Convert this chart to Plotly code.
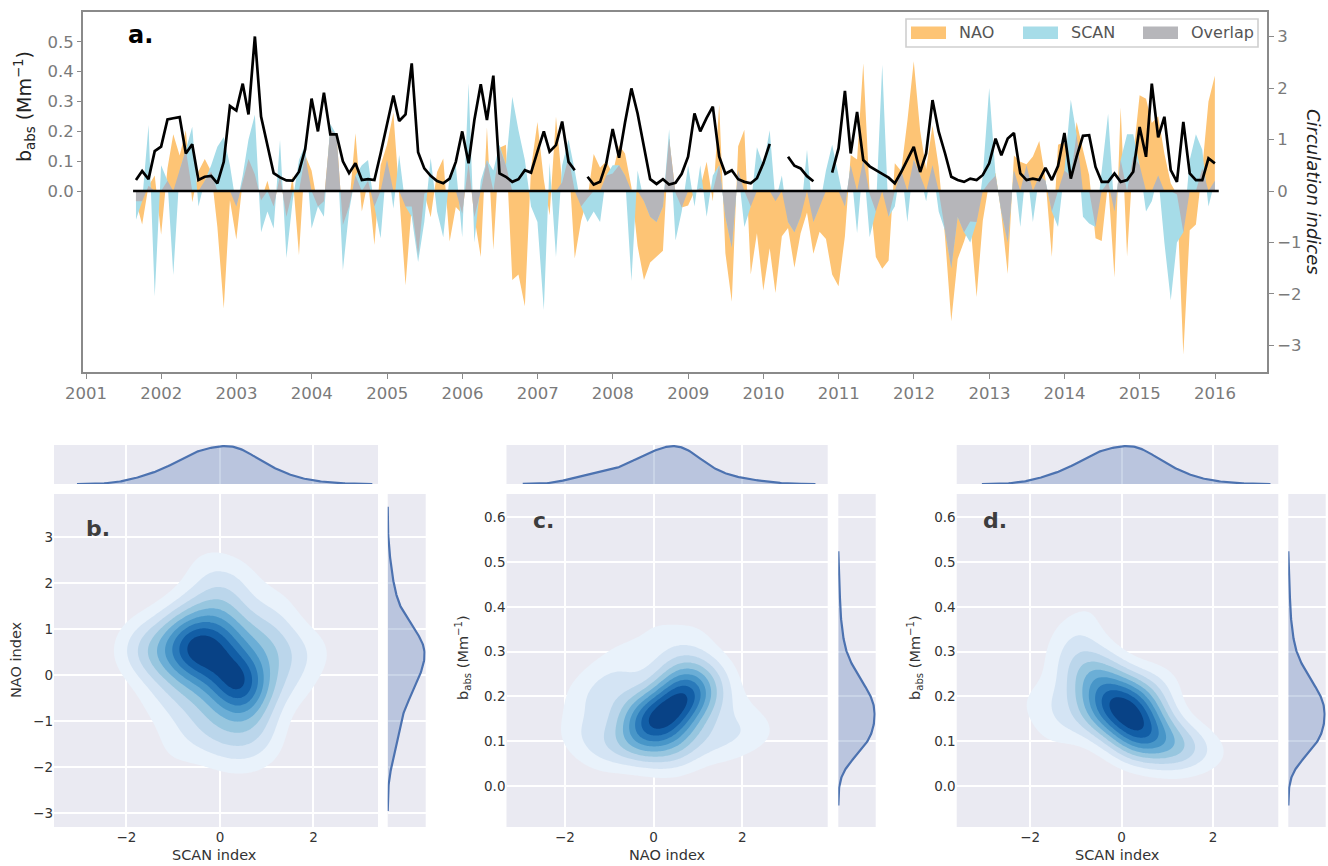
import numpy as np
import pandas as pd
import plotly.graph_objects as go

# ---------------- panel a data (monthly, Aug 2001 - Dec 2015) ----------------
months = pd.period_range("2001-08", "2015-12", freq="M").to_timestamp(how="end").strftime("%Y-%m-%d").tolist()

NAO = [-0.20, -0.65, 0.10, 0.30, -0.85,
       0.44, 1.10, 0.69, 1.18, -0.22, 0.38, 0.62, 0.38, -0.70, -2.28, -0.18, -0.94,
       0.20, 0.62, 0.32, -0.18, 0.20, -0.30, 0.30, -0.50, 0.30, -1.25, 0.70, 0.40,
       -0.30, -0.20, 1.20, 1.10, -0.66, -0.30, 1.12, -0.40, 0.20, -1.05, 0.50, 0.90,
       1.52, -0.06, -1.83, -0.30, -1.25, -0.05, -0.51, 0.37, 0.63, -0.98, -0.31, -0.44,
       0.55, -0.51, -1.28, 1.24, -1.14, 0.84, 0.90, -1.73, -1.62, -2.24, 0.44, 1.34,
       0.22, -0.47, 1.44, 0.17, 0.66, -1.31, -0.58, -0.14, 0.72, 0.45, 0.58, 0.34,
       0.89, 0.73, 0.08, -1.07, -1.73, -1.39, -1.27, -1.16, 1.02, -0.04, -0.32, -0.28,
       -0.01, 0.06, 0.57, -0.20, 1.68, -1.21, -2.15, 0.87, 1.19, -1.62, -0.82, -1.93,
       -1.11, -1.98, -0.88, -0.72, -1.49, -0.82, -0.42, -1.22, -0.79, -0.93, -1.62, -1.85,
       -0.88, 0.70, 0.61, 2.48, -0.06, -1.28, -1.51, -1.35, 0.54, 0.39, 1.36, 2.52,
       1.17, 0.42, 1.27, 0.47, -0.91, -2.53, -1.32, -0.98, -0.59, -2.06, -0.58, 0.17,
       0.35, -0.45, -1.61, 0.69, 0.57, 0.52, 0.67, 0.97, 0.24, -1.28, 0.90, 0.95,
       0.29, 1.34, 0.80, 0.31, -0.92, -0.97, 0.18, -1.68, 1.62, -1.27, 0.68, 1.86,
       1.79, 1.32, 1.45, 0.73, 0.15, -0.07, -3.18, -0.76, -0.65, 0.44, 1.74, 2.24]

SCAN = [-0.56, -0.20, 1.28, -2.05, 0.50,
        0.20, -1.63, 0.40, 0.80, 1.25, -0.30, 0.20, 0.50, 0.86, 1.05, 0.50, -0.30,
        0.30, 1.00, 1.48, -0.80, -0.40, -0.73, 0.99, -1.30, -0.20, 0.60, 0.90, -0.73,
        -0.30, -0.50, 1.30, 1.09, -1.54, -0.40, 0.30, 0.50, 0.60, -0.30, -0.92, 0.60,
        -0.34, 0.70, -0.30, -0.50, -1.38, -0.60, 0.64, -0.40, -0.90, 0.30, 0.50, -0.90,
        2.09, -1.00, 0.20, 0.60, 0.40, 0.90, 0.50, 1.83, 1.18, 0.60, -0.30, -0.60,
        -2.31, 0.55, -1.28, 0.50, 1.00, 0.40, -0.30, -0.60, -0.40, -0.60, 0.30, 0.50,
        0.50, 0.30, -1.75, 0.40, -0.20, -0.50, -0.60, -0.30, 1.20, -0.96, -0.40, 0.50,
        -0.30, 0.50, -0.50, 0.30, 0.50, -0.50, -1.10, 0.40, -0.70, -0.30, 0.85, 0.50,
        1.18, -0.20, 0.30, -0.60, -0.80, -0.50, 0.80, -0.60, -0.30, 0.40, 0.90, 0.30,
        -0.30, 0.50, -0.82, 0.60, -0.90, -0.40, 2.45, -0.50, -0.30, 0.50, -0.60, 0.60,
        0.30, -0.20, 0.50, -0.40, -0.77, -1.50, -0.50, -0.80, -1.00, -0.60, 0.30, 2.00,
        0.30, -0.40, -1.00, 0.40, -0.70, 0.50, -0.60, 0.30, 0.20, -0.40, -0.70, 0.40,
        1.77, 1.10, -0.50, -0.63, -0.70, 0.40, 1.50, -0.40, 0.60, 1.10, 1.10, 0.50,
        -0.40, -0.20, 0.30, -1.00, -2.12, -1.00, -0.80, 0.60, 1.10, 0.80, -0.30, 0.20]

BABS = [0.037, 0.067, 0.040, 0.134, 0.149,
        0.240, 0.244, 0.248, 0.126, 0.157, 0.037, 0.048, 0.051, 0.026, 0.098, 0.285, 0.270,
        0.360, 0.257, 0.518, 0.250, 0.154, 0.060, 0.046, 0.036, 0.035, 0.065, 0.140, 0.310,
        0.200, 0.330, 0.190, 0.190, 0.100, 0.060, 0.093, 0.037, 0.040, 0.037, 0.126, 0.220,
        0.320, 0.235, 0.257, 0.428, 0.130, 0.076, 0.051, 0.034, 0.026, 0.042, 0.098, 0.200,
        0.093, 0.238, 0.358, 0.238, 0.387, 0.059, 0.048, 0.031, 0.040, 0.070, 0.062, 0.132,
        0.200, 0.132, 0.154, 0.233, 0.098, 0.070, None, 0.048, 0.022, 0.031, 0.093, 0.208,
        0.112, 0.230, 0.344, 0.260, 0.154, 0.040, 0.024, 0.040, 0.022, 0.028, 0.058, 0.115,
        0.260, 0.200, 0.245, 0.283, 0.115, 0.058, 0.070, 0.040, 0.031, 0.026, 0.043, 0.093,
        0.158, None, None, 0.115, 0.085, 0.076, 0.050, 0.033, None, None, 0.062, 0.143,
        0.336, 0.126, 0.265, 0.104, 0.083, 0.072, 0.058, 0.045, 0.026, 0.064, 0.104, 0.148,
        0.064, 0.126, 0.305, 0.199, 0.126, 0.048, 0.037, 0.031, 0.042, 0.037, 0.054, 0.093,
        0.176, 0.120, 0.176, 0.195, 0.059, 0.037, 0.042, 0.037, 0.078, 0.037, 0.084, 0.195,
        0.042, 0.115, 0.185, 0.187, 0.081, 0.031, 0.031, 0.059, 0.031, 0.037, 0.065, 0.215,
        0.115, 0.360, 0.180, 0.249, 0.070, 0.031, 0.232, 0.059, 0.037, 0.037, 0.110, 0.093]

# ---------------- panels b-d data: (SCAN, NAO, b_abs) samples estimated from the density panels ----------------
JOINT_SCAN = [-0.60, -0.40, -0.70, -0.30, -0.50, -0.80, -0.20, -0.55, -0.45, -0.65,
              0.40, 0.50, 0.30, 0.55, 0.25, 0.45, 0.35, 0.60, 0.40,
              0.00, -0.10, 0.10, 0.20, 0.05, 0.35,
              -0.20, 0.10, -0.60, -0.10, 0.20, -0.30, 1.20, 0.40,
              -1.20, -1.50, -1.00, -1.30, -1.90, -1.60,
              0.80, 1.10, 1.30, 1.50, 0.90, 2.10, 1.60,
              0.70, 0.20, -0.30, 0.50, -0.10, 0.90, 0.30, -0.40, 1.00, -1.00, 0.90,
              -0.90, -0.70, -0.60, -1.30]
JOINT_NAO = [0.70, 0.50, 0.45, 0.75, 0.60, 0.85, 0.35, 0.30, 0.95, 0.60,
             -0.20, -0.35, -0.10, 0.00, -0.40, -0.15, -0.30, -0.20, 0.05,
             0.20, 0.00, 0.40, 0.80, 0.65, 0.90,
             1.30, 1.10, 1.40, 1.80, 1.60, 2.40, 1.50, 2.10,
             0.60, 0.40, 1.00, 0.20, 0.50, 0.80,
             0.50, 0.70, 0.30, 0.60, 1.00, 0.50, -0.20,
             -0.70, -0.90, -0.70, -1.20, -1.40, -1.10, -1.70, -1.20, -0.30, -1.60, -1.60,
             0.10, -0.60, -0.20, -0.60]
JOINT_BABS = [0.20, 0.17, 0.24, 0.19, 0.22, 0.27, 0.15, 0.14, 0.21, 0.29,
              0.11, 0.15, 0.13, 0.17, 0.10, 0.14, 0.18, 0.12, 0.15,
              0.16, 0.18, 0.17, 0.19, 0.20, 0.22,
              0.22, 0.14, 0.26, 0.18, 0.09, 0.12, 0.10, 0.13,
              0.26, 0.12, 0.35, 0.14, 0.18, 0.20,
              0.20, 0.10, 0.06, 0.09, 0.24, 0.07, 0.08,
              0.10, 0.22, 0.26, 0.08, 0.18, 0.07, 0.11, 0.24, 0.09, 0.20, 0.13,
              0.34, 0.16, 0.42, 0.30]

YEARS = list(range(2001, 2017))
LEFT_TICKS = [0.0, 0.1, 0.2, 0.3, 0.4, 0.5]
RIGHT_TICKS = [-3, -2, -1, 0, 1, 2, 3]
JOINT_TICKS_IDX = [-3, -2, -1, 0, 1, 2, 3]
JOINT_TICKS_B = [0.0, 0.1, 0.2, 0.3, 0.4, 0.5, 0.6]
LEGEND_NAMES = ["NAO", "SCAN", "Overlap"]

# ---------------- style ----------------
W, H = 1328, 866
FONT = "DejaVu Sans"
C_NAO, C_SCAN, C_OVER = "#FDC475", "#A6DCE8", "#B6B6BA"
FRAME = "#8a8a8a"
TICKGRAY = "#7a7a7a"
DARK = "#333333"
BG = "#EAEAF2"
KDE_LINE = "#4C72B0"
KDE_FILL = "rgba(76,114,176,0.30)"


def px(xp):
    return xp / W


def py(yp):
    return 1 - yp / H


def mlab(v):
    return f"{v:g}".replace("-", "\u2212")


nao = np.array(NAO, dtype=float)
scan = np.array(SCAN, dtype=float)
babs = np.array([np.nan if v is None else v for v in BABS], dtype=float)
same = np.sign(nao) == np.sign(scan)
overlap = np.where(same, np.sign(nao) * np.minimum(np.abs(nao), np.abs(scan)), 0.0)

fig = go.Figure()

# ---------------- panel a ----------------
for vals, col, name in ((nao, C_NAO, "NAO"), (scan, C_SCAN, "SCAN"), (overlap, C_OVER, "Overlap")):
    fig.add_trace(go.Scatter(x=months, y=vals, mode="lines", fill="tozeroy", fillcolor=col,
                             line=dict(width=0, color=col), name=name, showlegend=False,
                             xaxis="x", yaxis="y", hoverinfo="skip"))
fig.add_trace(go.Scatter(x=months, y=babs, mode="lines", line=dict(color="black", width=2.7),
                         connectgaps=False, showlegend=False, xaxis="x", yaxis="y2",
                         hoverinfo="skip"))

fig.add_shape(type="line", xref="x", yref="y", x0="2001-08-17", x1="2016-01-19", y0=0, y1=0,
              line=dict(color="black", width=2.7), layer="above")

noauto = dict(automargin=False)
layout = dict(
    xaxis=dict(domain=[px(83), px(1267)], anchor="y", type="date",
               range=["2000-12-17", "2016-09-09"],
               tickvals=[f"{y}-01-01" for y in YEARS], ticktext=[str(y) for y in YEARS],
               ticks="outside", ticklen=5, tickwidth=1.3, tickcolor=FRAME,
               showline=True, mirror=True, linecolor=FRAME, linewidth=2,
               showgrid=False, zeroline=False,
               tickfont=dict(family=FONT, size=16.5, color=TICKGRAY), **noauto),
    yaxis=dict(domain=[py(372), py(12)], anchor="x", side="right",
               range=[-3.515, 3.476], tickvals=RIGHT_TICKS, ticktext=[mlab(v) for v in RIGHT_TICKS],
               ticks="outside", ticklen=5, tickwidth=1.3, tickcolor=FRAME,
               showline=True, mirror=True, linecolor=FRAME, linewidth=2,
               showgrid=False, zeroline=False,
               tickfont=dict(family=FONT, size=16.5, color=TICKGRAY), **noauto),
    yaxis2=dict(overlaying="y", anchor="x", side="left",
                range=[-0.606, 0.600], tickvals=LEFT_TICKS, ticktext=[f"{v:.1f}" for v in LEFT_TICKS],
                ticks="outside", ticklen=5, tickwidth=1.3, tickcolor=FRAME,
                showline=False, showgrid=False, zeroline=False,
                tickfont=dict(family=FONT, size=16.5, color=TICKGRAY), **noauto),
)

# manual legend (matplotlib-style patches)
fig.add_shape(type="rect", xref="paper", yref="paper", x0=px(906), x1=px(1258), y0=py(47), y1=py(19),
              fillcolor="white", line=dict(color="#cfcfcf", width=1.6), layer="above")
LEG_PATCH_X = [911, 1023, 1143]
for name, col, lx in zip(LEGEND_NAMES, (C_NAO, C_SCAN, C_OVER), LEG_PATCH_X):
    fig.add_shape(type="rect", xref="paper", yref="paper", x0=px(lx), x1=px(lx + 35),
                  y0=py(39), y1=py(26.5), fillcolor=col, line=dict(width=0), layer="above")

# ---------------- joint KDE panels ----------------
def blues(t):
    anchors = ["#f7fbff", "#deebf7", "#c6dbef", "#9ecae1", "#6baed6",
               "#4292c6", "#2171b5", "#08519c", "#08306b"]
    pos = t * (len(anchors) - 1)
    i = min(int(pos), len(anchors) - 2)
    f = pos - i
    a = [int(anchors[i][k:k + 2], 16) for k in (1, 3, 5)]
    b = [int(anchors[i + 1][k:k + 2], 16) for k in (1, 3, 5)]
    c = [round(a[j] + (b[j] - a[j]) * f) for j in range(3)]
    return f"rgb({c[0]},{c[1]},{c[2]})"


NLEV = 9
CSCALE = [[0.0, "rgba(255,255,255,0)"]] + \
         [[k / NLEV, blues(0.07 + (k - 1) / (NLEV - 1) * 0.86)] for k in range(1, NLEV + 1)]


def kde2d(xs, ys, gx, gy):
    n = len(xs)
    hx = 1.06 * np.std(xs, ddof=1) * n ** (-1 / 6)
    hy = 1.06 * np.std(ys, ddof=1) * n ** (-1 / 6)
    X, Y = np.meshgrid(gx, gy)
    dx = (X[..., None] - xs) / hx
    dy = (Y[..., None] - ys) / hy
    return np.exp(-0.5 * (dx ** 2 + dy ** 2)).sum(-1) / (2 * np.pi * hx * hy * n)


def kde1d(v):
    n = len(v)
    h = 1.06 * np.std(v, ddof=1) * n ** (-1 / 5)
    g = np.linspace(v.min() - 3 * h, v.max() + 3 * h, 250)
    d = np.exp(-0.5 * ((g[:, None] - v) / h) ** 2).sum(-1) / (np.sqrt(2 * np.pi) * h * n)
    return g, d


j_scan = np.array(JOINT_SCAN)
j_nao = np.array(JOINT_NAO)
j_babs = np.array(JOINT_BABS)

panels = [
    dict(xd=j_scan, yd=j_nao, mx=(54, 378), rx=(387.7, 425.7), xr=[-3.55, 3.38], yr=[-3.30, 3.93],
         yt=JOINT_TICKS_IDX, ytf=lambda v: mlab(v), ids=(3, 4, 5)),
    dict(xd=j_nao, yd=j_babs, mx=(506.5, 827.7), rx=(838.3, 875.7), xr=[-3.32, 3.93], yr=[-0.092, 0.652],
         yt=JOINT_TICKS_B, ytf=lambda v: f"{v:.1f}", ids=(6, 7, 8)),
    dict(xd=j_scan, yd=j_babs, mx=(956.7, 1278.3), rx=(1288.3, 1325.7), xr=[-3.61, 3.43], yr=[-0.092, 0.652],
         yt=JOINT_TICKS_B, ytf=lambda v: f"{v:.1f}", ids=(9, 10, 11)),
]

tickfont_j = dict(family=FONT, size=13.5, color=DARK)
for p in panels:
    xs, ys = p["xd"], p["yd"]
    im, it, ir = p["ids"]
    gx = np.linspace(p["xr"][0], p["xr"][1], 150)
    gy = np.linspace(p["yr"][0], p["yr"][1], 150)
    Z = kde2d(xs, ys, gx, gy)
    step = Z.max() / (NLEV + 1)
    fig.add_trace(go.Contour(x=gx, y=gy, z=Z, xaxis=f"x{im}", yaxis=f"y{im}",
                             contours=dict(start=step, end=NLEV * step, size=step,
                                           coloring="fill", showlines=False),
                             colorscale=CSCALE, showscale=False, line=dict(width=0, smoothing=1.2),
                             hoverinfo="skip"))
    gxm, dxm = kde1d(xs)
    gym, dym = kde1d(ys)
    fig.add_trace(go.Scatter(x=gxm, y=dxm, mode="lines", fill="tozeroy", fillcolor=KDE_FILL,
                             line=dict(color=KDE_LINE, width=2.2), showlegend=False,
                             xaxis=f"x{it}", yaxis=f"y{it}", hoverinfo="skip"))
    fig.add_trace(go.Scatter(x=dym, y=gym, mode="lines", fill="tozerox", fillcolor=KDE_FILL,
                             line=dict(color=KDE_LINE, width=2.2), showlegend=False,
                             xaxis=f"x{ir}", yaxis=f"y{ir}", hoverinfo="skip"))

    mdom_x = [px(p["mx"][0]), px(p["mx"][1])]
    mdom_y = [py(827), py(494)]
    tdom_y = [py(484), py(445)]
    rdom_x = [px(p["rx"][0]), px(p["rx"][1])]
    xt = [-2, 0, 2]
    common = dict(showgrid=True, gridcolor="white", gridwidth=1.7, zeroline=False,
                  showline=False, ticks="", automargin=False)
    layout[f"xaxis{im}"] = dict(domain=mdom_x, anchor=f"y{im}", range=p["xr"], tickvals=xt,
                                ticktext=[mlab(v) for v in xt], tickfont=tickfont_j, **common)
    layout[f"yaxis{im}"] = dict(domain=mdom_y, anchor=f"x{im}", range=p["yr"], tickvals=p["yt"],
                                ticktext=[p["ytf"](v) for v in p["yt"]], tickfont=tickfont_j, **common)
    layout[f"xaxis{it}"] = dict(domain=mdom_x, anchor=f"y{it}", range=p["xr"], tickvals=xt,
                                showticklabels=False, **common)
    layout[f"yaxis{it}"] = dict(domain=tdom_y, anchor=f"x{it}", range=[0, dxm.max() * 1.03],
                                showgrid=False, zeroline=False, showticklabels=False, ticks="",
                                automargin=False)
    layout[f"xaxis{ir}"] = dict(domain=rdom_x, anchor=f"y{ir}", range=[0, dym.max() * 1.03],
                                showgrid=False, zeroline=False, showticklabels=False, ticks="",
                                automargin=False)
    layout[f"yaxis{ir}"] = dict(domain=mdom_y, anchor=f"x{ir}", range=p["yr"], tickvals=p["yt"],
                                showticklabels=False, **common)
    for a in (im, it, ir):
        fig.add_shape(type="rect", xref=f"x{a} domain", yref=f"y{a} domain", x0=0, x1=1, y0=0, y1=1,
                      fillcolor=BG, line=dict(width=0), layer="below")

# ---------------- annotations ----------------
ann = []


def add_text(text, x, y, size, color, angle=0, xanchor="center", yanchor="middle"):
    ann.append(dict(text=text, x=x, y=y, xref="paper", yref="paper", showarrow=False,
                    textangle=angle, xanchor=xanchor, yanchor=yanchor,
                    font=dict(family=FONT, size=size, color=color)))


for name, lx in zip(LEGEND_NAMES, LEG_PATCH_X):
    add_text(name, px(lx + 46), py(33), 16, "#555555", xanchor="left")
add_text("<b>a.</b>", px(126), py(35), 24, "black", xanchor="left")
add_text("<b>b.</b>", px(84), py(528), 22, "#3d3d3d", xanchor="left")
add_text("<b>c.</b>", px(531), py(520), 22, "#3d3d3d", xanchor="left")
add_text("<b>d.</b>", px(981), py(520), 22, "#3d3d3d", xanchor="left")
add_text("b<sub>abs</sub> (Mm<sup>\u22121</sup>)", px(25), py(107), 19, "#222222", angle=-90)
add_text("<i>Circulation indices</i>", px(1313), py(192), 18, "#222222", angle=90)
add_text("SCAN index", px(215), py(855), 14.5, DARK)
add_text("NAO index", px(16), py(660), 14.5, DARK, angle=-90)
add_text("NAO index", px(667), py(855), 14.5, DARK)
add_text("b<sub>abs</sub> (Mm<sup>\u22121</sup>)", px(463), py(658), 14.5, DARK, angle=-90)
add_text("SCAN index", px(1117), py(855), 14.5, DARK)
add_text("b<sub>abs</sub> (Mm<sup>\u22121</sup>)", px(915), py(658), 14.5, DARK, angle=-90)

layout.update(
    width=W, height=H, margin=dict(l=0, r=0, t=0, b=0, autoexpand=False),
    paper_bgcolor="white", plot_bgcolor="white",
    font=dict(family=FONT, size=14, color=DARK),
    annotations=ann,
    showlegend=False,
)
fig.update_layout(**layout)

fig.write_html("out.html", config={"displayModeBar": False},
               post_script="document.body.style.margin='0px';document.documentElement.style.overflow='hidden';")
